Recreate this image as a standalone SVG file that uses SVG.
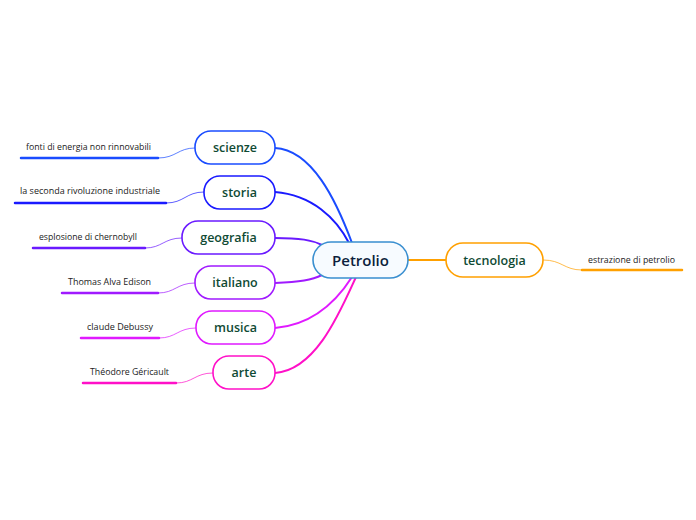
<svg xmlns="http://www.w3.org/2000/svg" width="696" height="520" viewBox="0 0 696 520">
<style>
.node{fill:#fff;stroke-width:1.6}
.lbl{font-family:"Open Sans","Noto Sans",sans-serif;font-weight:600;font-size:12.5px;fill:#0f4a34;text-anchor:middle}
.leaf{font-family:"Open Sans","Noto Sans",sans-serif;font-size:8.5px;fill:#222}
.conn{fill:none;stroke-width:2}
.thin{fill:none;stroke-width:1;opacity:0.7}
.ul{stroke-width:2.5;stroke-linecap:round}
</style>
<rect width="696" height="520" fill="#fff"/>
<g id="connectors">
<path class="conn" stroke="#1a4cff" d="M275,148 C312,150 336,200 352,243"/>
<path class="conn" stroke="#1a1aff" d="M275,192 C312,195 336,218 349,243"/>
<path class="conn" stroke="#6a1aff" d="M275,238 C300,238 312,240 322,245"/>
<path class="conn" stroke="#a01aff" d="M275,283 C300,282 312,280 322,275"/>
<path class="conn" stroke="#e01aff" d="M275,328 C312,325 336,302 352,277"/>
<path class="conn" stroke="#ff10c8" d="M275,373 C316,370 340,312 356,277"/>
<path class="conn" stroke="#ffa000" stroke-width="1.5" d="M408,260 L446,260"/>
<path class="thin" stroke="#1a4cff" d="M195,148 C178,148 176,158 158,158"/>
<path class="thin" stroke="#1a1aff" d="M204,192 C186,192 184,203 166,203"/>
<path class="thin" stroke="#6a1aff" d="M182,238 C164,238 162,248 145,248"/>
<path class="thin" stroke="#a01aff" d="M195,283 C177,283 175,293 158,293"/>
<path class="thin" stroke="#e01aff" d="M196,328 C178,328 176,338 159,338"/>
<path class="thin" stroke="#ff10c8" d="M213,373 C195,373 193,383 176,383"/>
<path class="thin" stroke="#ffa000" d="M543,260 C562,260 564,270 582,270"/>
<line class="ul" stroke="#1a4cff" x1="21" y1="158" x2="158" y2="158"/>
<line class="ul" stroke="#1a1aff" x1="15" y1="203" x2="166" y2="203"/>
<line class="ul" stroke="#6a1aff" x1="33" y1="248" x2="145" y2="248"/>
<line class="ul" stroke="#a01aff" x1="62" y1="293" x2="158" y2="293"/>
<line class="ul" stroke="#e01aff" x1="81" y1="338" x2="159" y2="338"/>
<line class="ul" stroke="#ff10c8" x1="83" y1="383" x2="176" y2="383"/>
<line class="ul" stroke="#ffa000" x1="582" y1="270" x2="682" y2="270"/>
</g>
<g id="petrolio">
<rect class="node" x="313" y="242" width="95" height="36" rx="18" fill="#f7fbff" stroke="#3a8fd0" style="fill:#f7fbff"/>
<text x="360.5" y="265.5" font-family="'Open Sans','Noto Sans',sans-serif" font-weight="600" font-size="15" fill="#0d1f3d" text-anchor="middle">Petrolio</text>
</g>
<g id="scienze">
<rect class="node" x="195" y="131" width="80" height="33" rx="16" stroke="#1a4cff"/>
<text class="lbl" x="235" y="152">scienze</text>
</g>
<g id="storia">
<rect class="node" x="204" y="176" width="71" height="33" rx="16" stroke="#1a1aff"/>
<text class="lbl" x="239.5" y="197">storia</text>
</g>
<g id="geografia">
<rect class="node" x="182" y="221" width="93" height="33" rx="16" stroke="#6a1aff"/>
<text class="lbl" x="228.5" y="242">geografia</text>
</g>
<g id="italiano">
<rect class="node" x="195" y="266" width="80" height="33" rx="16" stroke="#a01aff"/>
<text class="lbl" x="235" y="287">italiano</text>
</g>
<g id="musica">
<rect class="node" x="196" y="311" width="79" height="33" rx="16" stroke="#e01aff"/>
<text class="lbl" x="235.5" y="332">musica</text>
</g>
<g id="arte">
<rect class="node" x="213" y="356" width="62" height="33" rx="16" stroke="#ff10c8"/>
<text class="lbl" x="244" y="377">arte</text>
</g>
<g id="tecnologia">
<rect class="node" x="446" y="243" width="97" height="34" rx="17" stroke="#ffa000"/>
<text class="lbl" x="494.5" y="264.5">tecnologia</text>
</g>
<g id="leaves">
<text class="leaf" x="26" y="150" textLength="125" lengthAdjust="spacingAndGlyphs">fonti di energia non rinnovabili</text>
<text class="leaf" x="20" y="194" textLength="140" lengthAdjust="spacingAndGlyphs">la seconda rivoluzione industriale</text>
<text class="leaf" x="39" y="240" textLength="98" lengthAdjust="spacingAndGlyphs">esplosione di chernobyll</text>
<text class="leaf" x="68" y="285" textLength="83" lengthAdjust="spacingAndGlyphs">Thomas Alva Edison</text>
<text class="leaf" x="87" y="330" textLength="66" lengthAdjust="spacingAndGlyphs">claude Debussy</text>
<text class="leaf" x="90" y="375" textLength="79" lengthAdjust="spacingAndGlyphs">Théodore Géricault</text>
<text class="leaf" x="588" y="263" textLength="87" lengthAdjust="spacingAndGlyphs">estrazione di petrolio</text>
</g>
</svg>
